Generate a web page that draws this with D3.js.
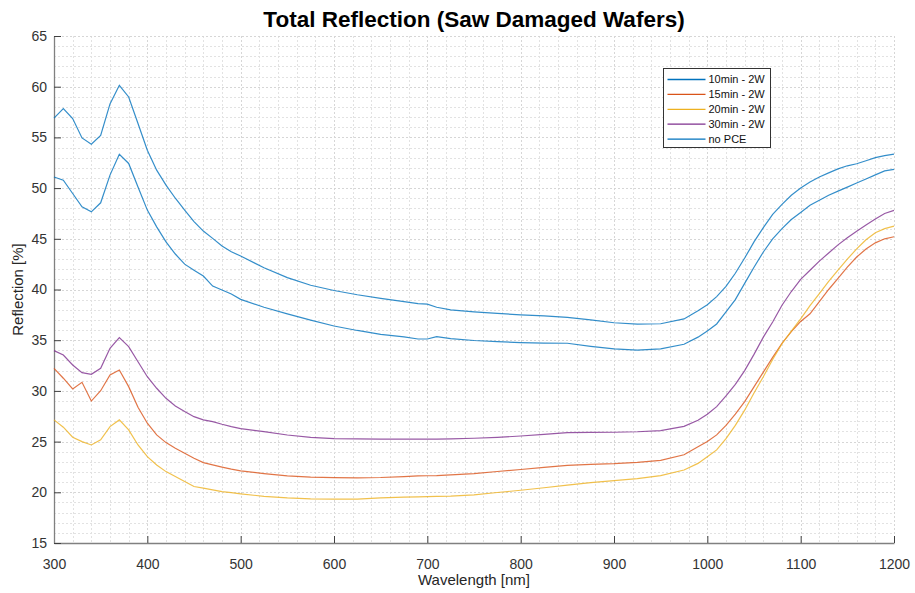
<!DOCTYPE html>
<html>
<head>
<meta charset="utf-8">
<script src="https://cdn.jsdelivr.net/npm/d3@7"></script>
<style>
  body { margin: 0; background: #fff; }
  text { font-family: "Liberation Sans", Arial, sans-serif; }
</style>
</head>
<body>
<div id="plot"></div>
<script>
// wavelength samples [nm]
var wavelengths = [
  300, 310, 320, 330, 340, 350, 360, 370, 380, 390, 400, 410, 420, 430, 440, 450, 460, 470, 480, 490, 500,
  525, 550, 575, 600, 625, 650, 675, 690, 700, 710, 725, 750, 775, 800, 825, 850, 875, 900, 925, 950, 975, 990,
  1000, 1010, 1020, 1030, 1040, 1050, 1060, 1070, 1080, 1090, 1100, 1110, 1120, 1130, 1140, 1150, 1160, 1170, 1180, 1190, 1200
];

// reflection [%]
var r10min = [
  51.1, 50.78, 49.47, 48.15, 47.66, 48.55, 51.28, 53.34, 52.43, 50.1, 47.83, 46.18, 44.7, 43.5, 42.5, 41.9, 41.33, 40.34, 39.95, 39.55, 39.03,
  38.25, 37.6, 36.98, 36.4, 35.96, 35.58, 35.33, 35.12, 35.12, 35.35, 35.15, 34.97, 34.85, 34.76, 34.72, 34.7, 34.4, 34.15, 34.03, 34.15, 34.6, 35.3,
  35.9, 36.6, 37.8, 39.0, 40.6, 42.2, 43.7, 45.0, 46.0, 46.9, 47.6, 48.3, 48.8, 49.3, 49.7, 50.1, 50.5, 50.9, 51.3, 51.7, 51.85
];
var r15min = [
  32.23, 31.25, 30.19, 30.85, 29.0, 30.02, 31.57, 32.06, 30.42, 28.39, 26.81, 25.66, 24.9, 24.35, 23.86, 23.36, 22.93, 22.7, 22.48, 22.28, 22.12,
  21.85, 21.62, 21.5, 21.45, 21.43, 21.46, 21.55, 21.62, 21.63, 21.65, 21.72, 21.85, 22.05, 22.25, 22.45, 22.65, 22.75, 22.82, 22.95, 23.15, 23.7, 24.5,
  25.0, 25.66, 26.6, 27.7, 28.95, 30.4, 31.85, 33.3, 34.7, 35.85, 36.85, 37.6, 38.8, 40.0, 41.1, 42.2, 43.2, 44.0, 44.6, 45.0, 45.2
];
var r20min = [
  27.14, 26.42, 25.43, 25.0, 24.67, 25.17, 26.48, 27.14, 26.15, 24.67, 23.52, 22.7, 22.04, 21.55, 21.06, 20.57, 20.41, 20.24, 20.07, 19.97, 19.85,
  19.6, 19.45, 19.36, 19.33, 19.33, 19.45, 19.52, 19.55, 19.58, 19.6, 19.63, 19.75, 19.98, 20.2, 20.45, 20.7, 20.95, 21.15, 21.35, 21.65, 22.2, 22.85,
  23.5, 24.18, 25.3, 26.6, 28.1, 29.8, 31.4, 33.1, 34.65, 35.9, 37.1, 38.4, 39.6, 40.8, 41.9, 43.0, 44.0, 44.9, 45.6, 46.0, 46.25
];
var r30min = [
  33.97, 33.54, 32.56, 31.8, 31.64, 32.23, 34.2, 35.25, 34.36, 32.88, 31.4, 30.26, 29.27, 28.52, 27.96, 27.46, 27.14, 26.97, 26.71, 26.48, 26.28,
  25.98, 25.65, 25.42, 25.3, 25.26, 25.24, 25.24, 25.24, 25.24, 25.24, 25.26, 25.33, 25.42, 25.55, 25.72, 25.88, 25.9, 25.92, 25.97, 26.08, 26.5, 27.1,
  27.7, 28.45, 29.5, 30.65, 32.0, 33.6, 35.3, 36.8, 38.45, 39.8, 41.0, 41.9, 42.8, 43.6, 44.4, 45.1, 45.75, 46.35, 46.95, 47.5, 47.8
];
var rNoPCE = [
  56.9, 57.85, 56.86, 54.95, 54.33, 55.2, 58.3, 60.14, 58.99, 56.37, 53.74, 51.77, 50.3, 49.0, 47.83, 46.7, 45.76, 45.04, 44.3, 43.72, 43.3,
  42.14, 41.17, 40.42, 39.9, 39.48, 39.12, 38.8, 38.6, 38.56, 38.25, 38.0, 37.8, 37.65, 37.5, 37.4, 37.25, 37.0, 36.72, 36.58, 36.62, 37.1, 37.9,
  38.5, 39.3, 40.3, 41.6, 43.1, 44.7, 46.1, 47.4, 48.4, 49.3, 50.0, 50.6, 51.1, 51.5, 51.9, 52.2, 52.4, 52.7, 53.0, 53.2, 53.35
];

var seriesNames = ["10min - 2W", "15min - 2W", "20min - 2W", "30min - 2W", "no PCE"];
var seriesValues = [r10min, r15min, r20min, r30min, rNoPCE];
var seriesColors = ["#0072BD", "#D95319", "#EDB120", "#7E2F8E", "#0072BD"];

var xTicks = [300, 400, 500, 600, 700, 800, 900, 1000, 1100, 1200];
var yTicks = [15, 20, 25, 30, 35, 40, 45, 50, 55, 60, 65];

/*------------------------------------------*/
/*            Chart                         */
/*------------------------------------------*/

var W = 915, H = 593;
var margin = {top: 36, right: 21, bottom: 50, left: 54};
var width = W - margin.left - margin.right,
    height = H - margin.top - margin.bottom;

var svg = d3.select("#plot").append("svg")
    .attr("width", W)
    .attr("height", H);

var chart = svg.append("g")
    .attr("transform", "translate(" + margin.left + "," + margin.top + ")");

var x = d3.scaleLinear().domain([300, 1200]).range([0, width]);
var y = d3.scaleLinear().domain([15, 65]).range([height, 0]);

// grid (minor + major, all dotted like the reference)
var xMinor = d3.range(300, 1201, 20),
    yMinor = d3.range(15, 66, 1);

chart.append("g").selectAll("line")
  .data(xMinor)
  .enter().append("line")
    .attr("x1", function(d) { return Math.round(x(d)) + 0.5; })
    .attr("x2", function(d) { return Math.round(x(d)) + 0.5; })
    .attr("y1", 0)
    .attr("y2", height)
    .style("stroke", function(d) { return d % 100 === 0 ? "#d6d6d6" : "#e2e2e2"; })
    .style("stroke-dasharray", "2,2");

chart.append("g").selectAll("line")
  .data(yMinor)
  .enter().append("line")
    .attr("x1", 0)
    .attr("x2", width)
    .attr("y1", function(d) { return Math.round(y(d)) + 0.5; })
    .attr("y2", function(d) { return Math.round(y(d)) + 0.5; })
    .style("stroke", function(d) { return d % 5 === 0 ? "#d6d6d6" : "#e2e2e2"; })
    .style("stroke-dasharray", "2,2");

// axes
var xAxis = chart.append("g")
    .attr("transform", "translate(0," + height + ")")
    .call(d3.axisBottom(x).tickValues(xTicks).tickFormat(d3.format("d"))
      .tickSizeInner(-7).tickSizeOuter(0).tickPadding(16));

var yAxis = chart.append("g")
    .call(d3.axisLeft(y).tickValues(yTicks).tickFormat(d3.format("d"))
      .tickSizeInner(-7).tickSizeOuter(0).tickPadding(7));

[xAxis, yAxis].forEach(function(a) {
  a.select(".domain").style("stroke", "#808080").style("stroke-width", 1.3);
  a.selectAll(".tick line").style("stroke", "#404040");
  a.selectAll(".tick text")
    .style("font-family", "'Liberation Sans', Arial, sans-serif")
    .style("font-size", "14px")
    .style("fill", "#333");
});

// lines
var line = d3.line()
    .x(function(d, i) { return x(wavelengths[i]); })
    .y(function(d) { return y(d); });

chart.append("g").selectAll("path")
  .data(seriesValues)
  .enter().append("path")
    .attr("d", line)
    .style("fill", "none")
    .style("stroke", function(d, i) { return seriesColors[i]; })
    .style("stroke-width", 1.2)
    .style("stroke-opacity", 0.8);

// title and labels
svg.append("text")
    .attr("x", margin.left + width / 2)
    .attr("y", 27)
    .attr("text-anchor", "middle")
    .style("font-size", "22.5px")
    .style("font-weight", "bold")
    .style("fill", "#000")
    .text("Total Reflection (Saw Damaged Wafers)");

svg.append("text")
    .attr("x", margin.left + width / 2)
    .attr("y", 585)
    .attr("text-anchor", "middle")
    .style("font-size", "15px")
    .style("fill", "#262626")
    .text("Wavelength [nm]");

svg.append("text")
    .attr("transform", "translate(23," + (margin.top + height / 2) + ") rotate(-90)")
    .attr("text-anchor", "middle")
    .style("font-size", "15px")
    .style("fill", "#262626")
    .text("Reflection [%]");

// legend
var legend = svg.append("g").attr("transform", "translate(663.5,68.5)");

legend.append("rect")
    .attr("width", 107)
    .attr("height", 79)
    .style("fill", "#fff")
    .style("stroke", "#333")
    .style("stroke-width", 1);

var items = legend.selectAll(".item")
  .data(seriesNames)
  .enter().append("g")
    .attr("transform", function(d, i) { return "translate(0," + (11 + i * 14.9) + ")"; });

items.append("line")
    .attr("x1", 4)
    .attr("x2", 42)
    .style("stroke", function(d, i) { return seriesColors[i]; })
    .style("stroke-width", 1.3);

items.append("text")
    .attr("x", 45)
    .attr("dy", "0.35em")
    .style("font-size", "11px")
    .style("fill", "#111")
    .text(function(d) { return d; });
</script>
</body>
</html>
